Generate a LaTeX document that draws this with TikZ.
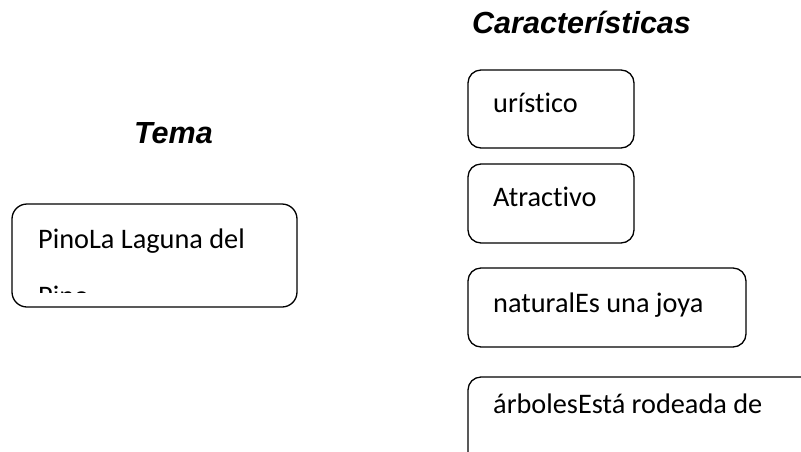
\documentclass[tikz,border=0pt]{standalone}
\usepackage{fontspec}
\setmainfont{Carlito}[Ligatures={TeX,NoCommon}]
\newfontfamily\titlefont{Liberation Sans}
\begin{document}
\begin{tikzpicture}[x=1pt,y=-1pt,
  box/.style={draw=black, line width=1.3pt, rounded corners=13pt, inner sep=0pt},
  body/.style={anchor=base west, inner sep=0pt, font=\fontsize{28.3}{34}\selectfont},
  ttl/.style={anchor=base west, inner sep=0pt, font=\titlefont\bfseries\itshape\fontsize{30.5}{34}\selectfont}]
\useasboundingbox (0,0) rectangle (801,451);
\clip (0,0) rectangle (801,451);
% titles
\node[ttl] (tema) at (134,143) {Tema};
\node[ttl] (carac) at (472,33) {Características};
% Tema box
\node[box, minimum width=285pt, minimum height=103pt, rounded corners=15pt] (tbox) at (154.5,255.5) {};
\node[body] (t1) at (38,248) {PinoLa Laguna del};
\begin{scope}
\clip (20,260) rectangle (290,292);
\node[body] (t2) at (38,305) {Pino};
\end{scope}
% characteristic boxes
\node[box, minimum width=166pt, minimum height=78pt] (b1) at (551,109) {};
\node[body] (c1) at (493,112) {urístico};
\node[box, minimum width=166pt, minimum height=79pt] (b2) at (551,203.5) {};
\node[body] (c2) at (493,206) {Atractivo};
\node[box, minimum width=278pt, minimum height=79pt] (b3) at (607,307.5) {};
\node[body] (c3) at (493,312) {naturalEs una joya};
\node[box, minimum width=400pt, minimum height=120pt] (b4) at (668,437) {};
\node[body] (c4) at (493,413) {árbolesEstá rodeada de};
\end{tikzpicture}
\end{document}
